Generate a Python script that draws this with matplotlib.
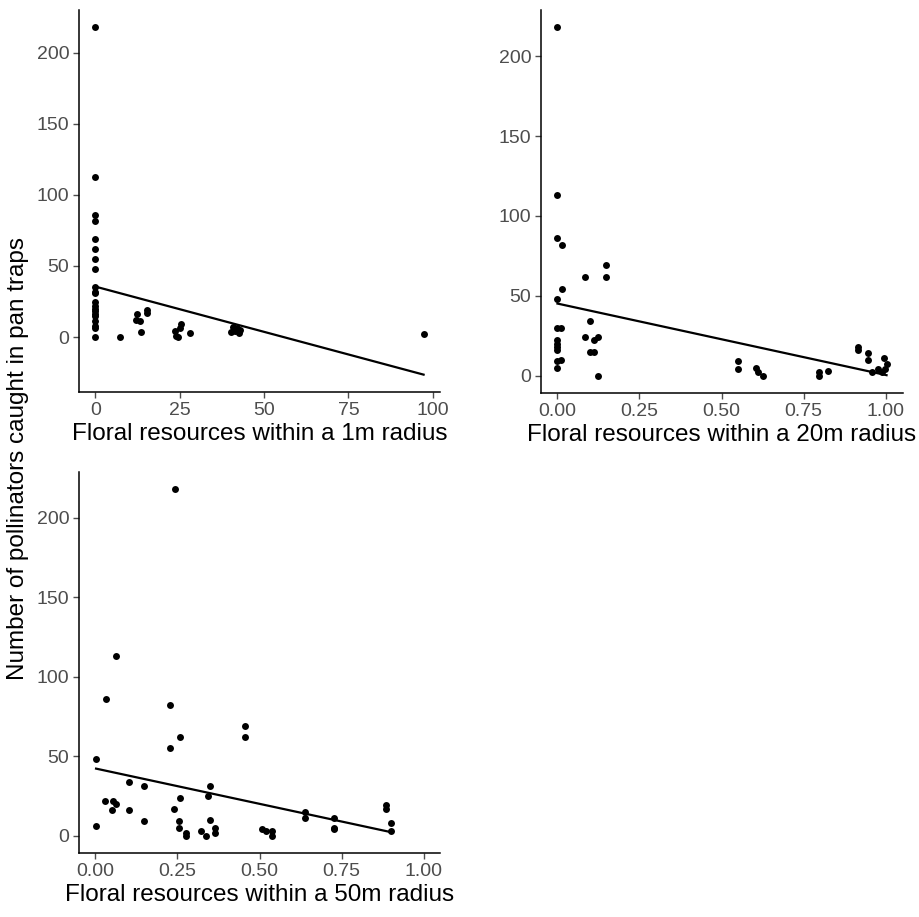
import numpy as np
import matplotlib
matplotlib.use('Agg')
import matplotlib.pyplot as plt

plt.rcParams['font.family'] = ['Liberation Sans', 'DejaVu Sans']

# floral resources within a 1m radius (cover) vs pollinators caught
fr_1m = [0, 0, 0, 0, 0, 0, 0, 0, 0, 0, 0, 0, 0, 0, 0, 0, 0, 0, 0, 0, 0,
         7.3,
         12.3, 12.1, 13.2, 15.2, 15.2, 13.4,
         23.5, 24.0, 24.5, 25.5, 25.0, 28.1,
         40.2, 40.8, 41.5, 42.6, 43.0, 42.0,
         97.3]
poll_1m = [218, 113, 86, 82, 69, 62, 55, 48, 35, 32, 31, 25, 22, 20, 18, 16, 15, 11, 8, 6, 0,
           0,
           16, 12, 11, 19, 17, 3.5,
           4, 1, 0, 9, 6, 3,
           3.5, 7, 4, 3, 5, 6,
           2]

# floral resources within a 20m radius
fr_20m = [0, 0, 0, 0.014, 0.014, 0, 0, 0.01, 0, 0, 0, 0, 0.01, 0, 0,
          0.085, 0.147, 0.147, 0.098, 0.085, 0.111, 0.123, 0.098, 0.111, 0.125,
          0.549, 0.549, 0.606, 0.611, 0.626,
          0.797, 0.797, 0.825,
          0.916, 0.916, 0.946, 0.946,
          0.996, 1.003, 0.998, 0.978, 0.990, 0.958]
poll_20m = [218, 113, 86, 82, 54, 48, 30, 30, 22, 20, 18, 16, 10, 9, 5,
            62, 69, 62, 34, 24, 22, 24, 15, 15, 0,
            9, 4, 5, 2, 0,
            2, 0, 3,
            18, 16, 14, 10,
            11, 7, 4, 4, 2, 2]

# floral resources within a 50m radius
fr_50m = [0.002, 0.002, 0.032, 0.030, 0.064, 0.055, 0.063, 0.052, 0.103, 0.103,
          0.147, 0.147, 0.227, 0.227, 0.241, 0.240, 0.259, 0.258, 0.254, 0.254,
          0.275, 0.277, 0.323, 0.338, 0.348, 0.343, 0.348, 0.363, 0.363,
          0.457, 0.457, 0.509, 0.519, 0.537, 0.537,
          0.640, 0.640, 0.726, 0.726, 0.726,
          0.884, 0.884, 0.902, 0.902]
poll_50m = [48, 6, 86, 22, 113, 22, 20, 16, 34, 16,
            31, 9, 82, 55, 218, 17, 62, 24, 9, 5,
            2, 0, 3, 0, 31, 25, 10, 5, 2,
            69, 62, 4, 3, 3, 0,
            15, 11, 11, 5, 4,
            19, 17, 8, 3]

# fitted linear trend per panel: intercept, slope
fit_intercept = [35.5, 45.1, 42.3]
fit_slope = [-0.637, -44.7, -44.5]

panels = [
    (fr_1m, poll_1m, 'Floral resources within a 1m radius', [0, 25, 50, 75, 100], None),
    (fr_20m, poll_20m, 'Floral resources within a 20m radius', [0, 0.25, 0.5, 0.75, 1.0], None),
    (fr_50m, poll_50m, 'Floral resources within a 50m radius', [0, 0.25, 0.5, 0.75, 1.0], (0, 1)),
]

W, H = 920, 917
fig = plt.figure(figsize=(W / 100, H / 100), dpi=100)

# axes boxes in pixels: left, right, top, bottom
boxes = [(79, 440, 10, 392), (541, 903, 10, 393), (79, 440, 472, 853)]

grey = '#4D4D4D'
for i, (x, y, xlabel, xticks, xrange) in enumerate(panels):
    l, r, t, b = boxes[i]
    ax = fig.add_axes([l / W, 1 - b / H, (r - l) / W, (b - t) / H])
    x = np.array(x)
    y = np.array(y)
    ax.scatter(x, y, s=25, color='black', linewidths=0, zorder=3)

    xs = np.array([x.min(), x.max()])
    ys = fit_intercept[i] + fit_slope[i] * xs
    ax.plot(xs, ys, color='black', lw=1.6, zorder=2)

    lo, hi = (xrange if xrange else (x.min(), x.max()))
    pad = 0.05 * (hi - lo)
    ax.set_xlim(lo - pad, hi + pad)
    ylo = min(y.min(), ys.min())
    yhi = max(y.max(), ys.max())
    pad = 0.05 * (yhi - ylo)
    ax.set_ylim(ylo - pad, yhi + pad)

    ax.set_xticks(xticks)
    if isinstance(xticks[1], float):
        ax.set_xticklabels([f'{v:.2f}' for v in xticks])
    ax.set_yticks([0, 50, 100, 150, 200])

    for side in ['top', 'right']:
        ax.spines[side].set_visible(False)
    for side in ['left', 'bottom']:
        ax.spines[side].set_color('black')
        ax.spines[side].set_linewidth(1.1)
    ax.tick_params(colors=grey, labelsize=14, length=4, width=1, pad=3)
    ax.set_xlabel(xlabel, fontsize=17.5, color='black', labelpad=3)

fig.text(18 / W, 0.5, 'Number of pollinators caught in pan traps', rotation=90,
         ha='center', va='center', fontsize=17.5, color='black')

fig.savefig('out.png', dpi=100)
